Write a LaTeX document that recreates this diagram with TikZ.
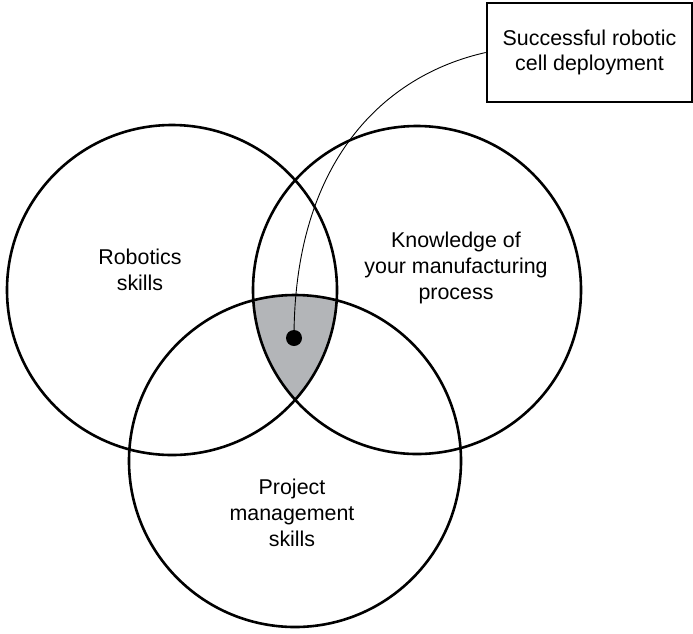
\documentclass[tikz,border=0pt]{standalone}
\usepackage{fontspec}
\setmainfont{Liberation Sans}
\definecolor{overlapgray}{RGB}{179,181,184}
\begin{document}
\begin{tikzpicture}
[x=1pt, y=-1pt,
  setdecorate/.style={shape=circle,inner sep=0pt,draw,line width=2.6pt},%
  labeldecorate/.style={align=center,font=\fontsize{21.4}{25.8}\selectfont},%
  linedecorate/.style={-,line width=0.9pt}]
\useasboundingbox (0,0) rectangle (693,633);
%% shared area of the three sets
\begin{scope}
  \clip (172,290) circle (165);
  \clip (417,290) circle (164);
  \fill[overlapgray] (295,461) circle (166);
\end{scope}
%% sets
\foreach \nodename/\x/\y/\r in {robotics/172/290/165, knowledge/417/290/164,
  project/295/461/166}
{
  \node (\nodename) at (\x,\y) [setdecorate, minimum size=2*\r pt] {};
}
%% set labels
\node (roboticslabel) at (140,270) [labeldecorate] {Robotics\\skills};
\node (knowledgelabel) at (456,268) [labeldecorate] {Knowledge of\\your manufacturing\\process};
\node (projectlabel) at (292,513) [labeldecorate] {Project\\management\\skills};
%% outcome
\node (dot) at (294,338) [shape=circle,fill=black,inner sep=0pt,minimum size=16pt] {};
\node (outcome) at (589.5,52.5) [labeldecorate, draw, line width=2.6pt,
  minimum width=205pt, minimum height=99pt] {Successful robotic\\cell deployment};
\draw[linedecorate] (dot.center) .. controls (294,160) and (385,75) .. (outcome.west);
\end{tikzpicture}
\end{document}
